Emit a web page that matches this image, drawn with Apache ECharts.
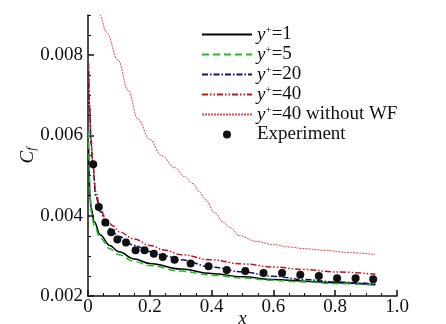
<!DOCTYPE html>
<html><head><meta charset="utf-8">
<script src="https://cdn.jsdelivr.net/npm/echarts@6/dist/echarts.min.js"></script>
<style>html,body{margin:0;padding:0;background:#fff}#c{width:446px;height:324px}</style>
</head><body><div id="c"></div>
<script>
// ---- data ----
const seriesNames = ['y+=1', 'y+=5', 'y+=20', 'y+=40', 'y+=40 without WF', 'Experiment'];
const yp1 = [[0.002,0.0057],[0.004,0.0050],[0.006,0.0045],[0.01,0.0042],[0.02,0.00385],[0.04,0.00352],[0.07,0.00326],[0.1,0.0031],[0.15,0.00292],[0.2,0.00281],[0.3,0.00267],[0.4,0.00256],[0.5,0.00248],[0.6,0.00241],[0.7,0.00237],[0.8,0.00233],[0.93,0.00228]];
const yp5 = [[0.002,0.0061],[0.004,0.0052],[0.006,0.0046],[0.01,0.0041],[0.02,0.00375],[0.04,0.00344],[0.07,0.00318],[0.1,0.00303],[0.15,0.00286],[0.2,0.00276],[0.3,0.00262],[0.4,0.00252],[0.5,0.00245],[0.6,0.00239],[0.7,0.00235],[0.8,0.00231],[0.93,0.00227]];
const yp20 = [[0.002,0.0076],[0.005,0.0067],[0.01,0.0058],[0.016,0.0052],[0.025,0.0045],[0.04,0.0041],[0.06,0.00378],[0.08,0.0036],[0.1,0.00348],[0.15,0.00326],[0.2,0.00311],[0.25,0.0030],[0.3,0.0029],[0.4,0.00272],[0.5,0.0026],[0.6,0.00249],[0.7,0.00241],[0.8,0.00235],[0.93,0.0023]];
const yp40 = [[0.002,0.0078],[0.005,0.0068],[0.01,0.0059],[0.016,0.0053],[0.025,0.0046],[0.04,0.00415],[0.06,0.0039],[0.08,0.00375],[0.1,0.0036],[0.15,0.00342],[0.2,0.00326],[0.25,0.00314],[0.3,0.00303],[0.4,0.0029],[0.5,0.0028],[0.6,0.00272],[0.7,0.00266],[0.8,0.0026],[0.93,0.00254]];
const yp40noWF = [[0.03,0.0093],[0.038,0.009],[0.06,0.00857],[0.097,0.00788],[0.13,0.00712],[0.162,0.0064],[0.2,0.0059],[0.238,0.0055],[0.28,0.0052],[0.313,0.00497],[0.34,0.0048],[0.36,0.0046],[0.38,0.0044],[0.411,0.00407],[0.437,0.00384],[0.46,0.0037],[0.491,0.0035],[0.545,0.00336],[0.6,0.00328],[0.653,0.00322],[0.7,0.00318],[0.761,0.00314],[0.85,0.00308],[0.929,0.00303]];
const experiment = [[0.017,0.00528],[0.035,0.00422],[0.056,0.00383],[0.075,0.00359],[0.095,0.00341],[0.123,0.00333],[0.154,0.00314],[0.183,0.00314],[0.213,0.00305],[0.242,0.00297],[0.28,0.0029],[0.332,0.00281],[0.39,0.00274],[0.449,0.00265],[0.509,0.00262],[0.568,0.00257],[0.628,0.00257],[0.687,0.00253],[0.747,0.0025],[0.806,0.00244],[0.866,0.00244],[0.923,0.00242]];
const yMajorTicks = [0.002, 0.004, 0.006, 0.008];
const yMinorTicks = [0.0025,0.003,0.0035,0.0045,0.005,0.0055,0.0065,0.007,0.0075,0.0085,0.009];
const xTickLabels = ['0','0.2','0.4','0.6','0.8','1.0'];

const FONT = '"Liberation Serif","Times New Roman",serif';
const chart = echarts.init(document.getElementById('c'), null, {renderer:'canvas'});
const lineBase = {type:'line', showSymbol:false, symbol:'none', smooth:0.4, smoothMonotone:'x', xAxisIndex:0, yAxisIndex:0, z:3};
const rich = {
  i:{fontFamily:FONT, fontStyle:'italic', fontSize:19, color:'#111', lineHeight:19},
  sup:{fontFamily:FONT, fontSize:11, color:'#111', verticalAlign:'top', lineHeight:11},
  n:{fontFamily:FONT, fontSize:19, color:'#111', lineHeight:19}
};
const hiddenSym = {color:'rgba(0,0,0,0)', borderWidth:0, opacity:0};
chart.setOption({
  animation:false,
  backgroundColor:'#fff',
  grid:{left:88, right:49, top:15, bottom:28, outerBoundsMode:'none', containLabel:false},
  legend:{
    orient:'vertical', left:196, top:20, itemWidth:50, itemHeight:8, itemGap:1,
    data:seriesNames.map(function(n, i){
      return i < 5 ? {name:n, itemStyle:hiddenSym} : {name:n, itemStyle:{color:'#111', opacity:1}};
    }),
    textStyle:{fontFamily:FONT, fontSize:19, color:'#111', rich:rich},
    formatter:function(name){
      if(name==='Experiment') return '{n|Experiment}';
      const rest = name.slice(2);
      return '{i|y}{sup|+}{n|' + rest + '}';
    }
  },
  xAxis:{
    type:'value', min:0, max:1, interval:0.2,
    axisLine:{lineStyle:{color:'#111', width:1.5}},
    axisTick:{inside:true, length:6, lineStyle:{color:'#111', width:1.5}},
    minorTick:{show:true, splitNumber:4, length:3, lineStyle:{color:'#111', width:1}},
    splitLine:{show:false},
    axisLabel:{margin:2, fontFamily:FONT, fontSize:19, color:'#111',
      formatter:function(v){ return xTickLabels[Math.round(v/0.2)]; }},
    name:'x', nameLocation:'middle', nameGap:13, nameMoveOverlap:false,
    nameTextStyle:{fontFamily:FONT, fontStyle:'italic', fontSize:19, color:'#111'}
  },
  yAxis:[{
    type:'value', min:0.002, max:0.009, position:'left',
    axisLine:{lineStyle:{color:'#111', width:1.5}},
    axisTick:{inside:true, length:6, customValues:yMajorTicks, lineStyle:{color:'#111', width:1.5}},
    splitLine:{show:false},
    axisLabel:{margin:5, fontFamily:FONT, fontSize:19, color:'#111', customValues:yMajorTicks,
      formatter:function(v){ return v.toFixed(3); }},
    name:'{c|C}{f|f}', nameLocation:'middle', nameGap:50, nameRotate:90, nameMoveOverlap:false,
    nameTextStyle:{rich:{
      c:{fontFamily:FONT, fontStyle:'italic', fontSize:19, color:'#111'},
      f:{fontFamily:FONT, fontStyle:'italic', fontSize:12, color:'#111', verticalAlign:'bottom', padding:[8,0,0,0]}
    }}
  },{
    type:'value', min:0.002, max:0.009, position:'left', offset:0,
    axisLine:{show:false},
    axisTick:{inside:true, length:3, customValues:yMinorTicks, lineStyle:{color:'#111', width:1}},
    axisLabel:{show:false},
    splitLine:{show:false}
  }],
  series:[
    Object.assign({}, lineBase, {name:seriesNames[0], data:yp1, lineStyle:{color:'#000', width:1.5, type:'solid'}, itemStyle:{color:'#000'}}),
    Object.assign({}, lineBase, {name:seriesNames[1], data:yp5, lineStyle:{color:'#1fbf1f', width:1.5, type:[7,4]}, itemStyle:{color:'#1fbf1f'}}),
    Object.assign({}, lineBase, {name:seriesNames[2], data:yp20, lineStyle:{color:'#10107a', width:1.5, type:[6,2,1.5,2]}, itemStyle:{color:'#10107a'}}),
    Object.assign({}, lineBase, {name:seriesNames[3], data:yp40, lineStyle:{color:'#c8101a', width:1.5, type:[6,2,1.5,2,1.5,2]}, itemStyle:{color:'#c8101a'}}),
    Object.assign({}, lineBase, {name:seriesNames[4], data:yp40noWF, lineStyle:{color:'#e6464f', width:1, type:[2,1]}, itemStyle:{color:'#e6464f'}}),
    {type:'scatter', name:seriesNames[5], data:experiment, symbol:'circle', symbolSize:8, itemStyle:{color:'#111', opacity:1}, z:4}
  ]
});
</script>
</body></html>
